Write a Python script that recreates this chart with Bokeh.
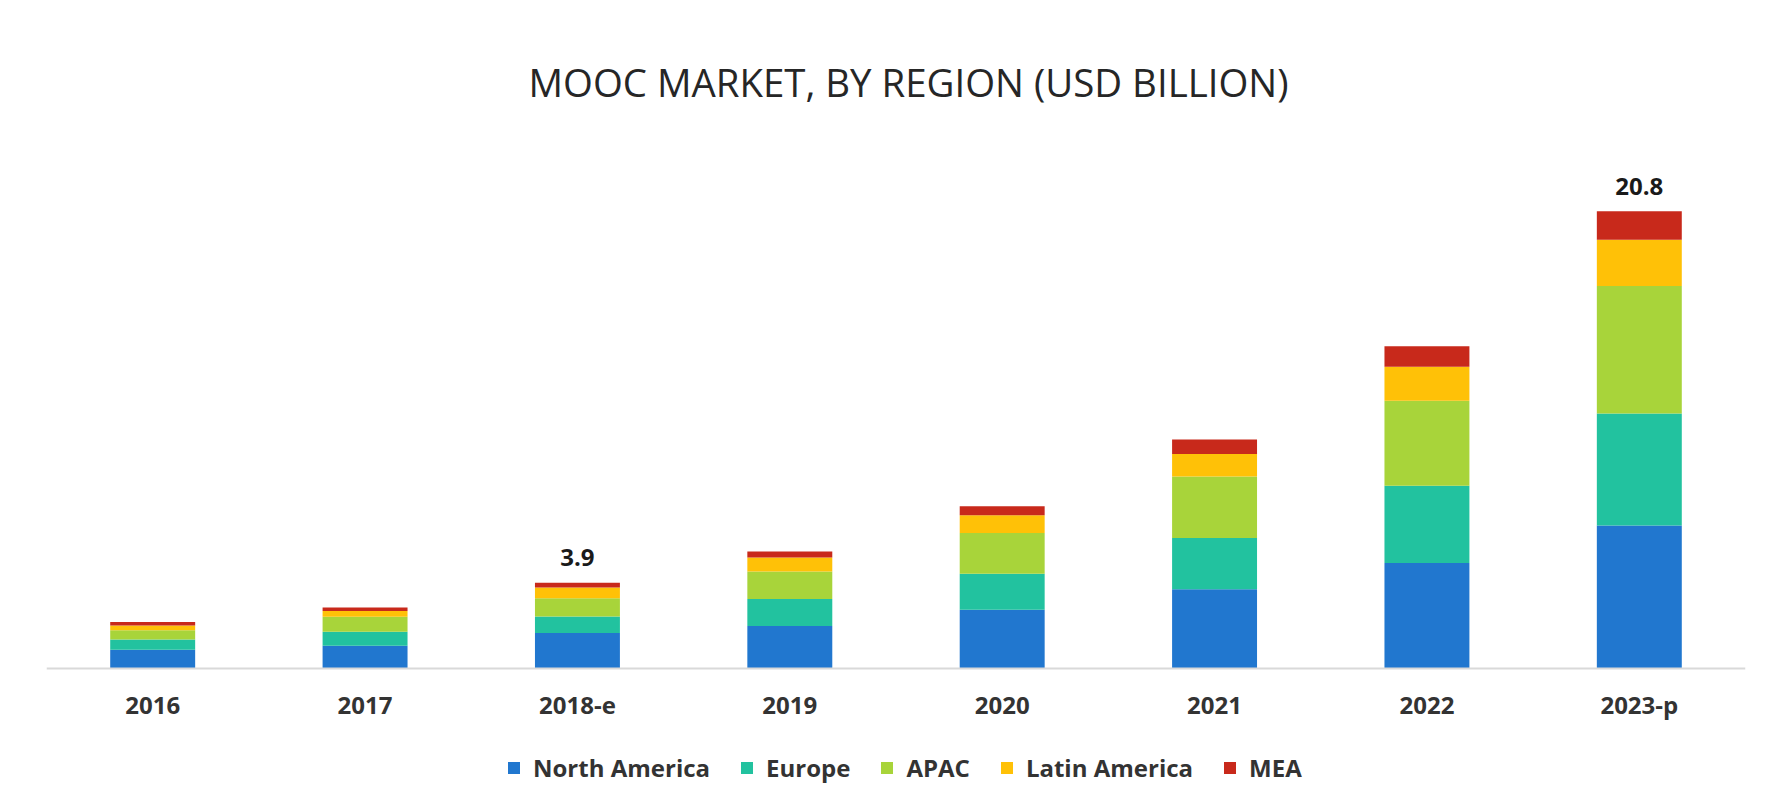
from bokeh.plotting import figure
from bokeh.models import FactorRange, Range1d, Legend, LegendItem, ColumnDataSource
from bokeh.core.properties import value
from bokeh.embed import file_html
from bokeh.resources import INLINE

# ---- data (USD billion) ----
years = ["2016", "2017", "2018-e", "2019", "2020", "2021", "2022", "2023-p"]
north_america = [0.85, 1.03, 1.62, 1.93, 2.67, 3.60, 4.80, 6.50]
europe = [0.47, 0.64, 0.74, 1.23, 1.64, 2.34, 3.51, 5.10]
apac = [0.42, 0.68, 0.83, 1.25, 1.85, 2.80, 3.87, 5.80]
latin_america = [0.22, 0.26, 0.50, 0.64, 0.81, 1.02, 1.55, 2.10]
mea = [0.16, 0.17, 0.21, 0.27, 0.41, 0.66, 0.93, 1.30]

series_names = ["North America", "Europe", "APAC", "Latin America", "MEA"]
series_keys = ["na", "eu", "apac", "la", "mea"]
colors = ["#2177CF", "#22C29F", "#A8D43A", "#FFC107", "#C8291B"]

label_years = ["2018-e", "2023-p"]
label_values = [3.9, 20.8]

title_text = "MOOC MARKET, BY REGION (USD BILLION)"

FONT = "Open Sans"

source = ColumnDataSource(dict(years=years, na=north_america, eu=europe,
                               apac=apac, la=latin_america, mea=mea))

# frame: page y 120 .. 791 ; baseline (y=0) at page y 668
p = figure(width=1756, height=791,
           x_range=FactorRange(factors=years, range_padding=0),
           y_range=Range1d(-5.596, 24.93),
           output_backend="svg", toolbar_location=None,
           y_axis_location=None,
           min_border_left=46, min_border_right=11,
           min_border_top=120, min_border_bottom=0)

p.outline_line_color = None
p.background_fill_color = "white"
p.border_fill_color = "white"
p.xgrid.visible = False
p.ygrid.visible = False

# title
p.title.text = title_text
p.title.align = "left"
p.title.offset = 482
p.title.standoff = 25
p.title.text_font = FONT
p.title.text_font_size = "38.4px"
p.title.text_font_style = "normal"
p.title.text_color = "#262626"

renderers = p.vbar_stack(series_keys, x="years", width=0.4, source=source,
                         color=colors, line_color=None)

# axis styling: axis drawn at the zero baseline
ax = p.xaxis[0]
ax.fixed_location = 0
ax.axis_line_color = "#D9D9D9"
ax.axis_line_width = 2
ax.major_tick_line_color = None
ax.minor_tick_line_color = None
ax.major_label_text_font = FONT
ax.major_label_text_font_size = "24px"
ax.major_label_text_font_style = "bold"
ax.major_label_text_color = "#333333"
ax.major_label_standoff = 14

# value labels
lsrc = ColumnDataSource(dict(x=label_years, y=label_values,
                             t=[f"{v:.1f}" for v in label_values]))
p.text(x="x", y="y", text="t", source=lsrc, text_align="center",
       text_baseline="middle", y_offset=-25, text_font=value(FONT),
       text_font_size="24px", text_font_style="bold", text_color="#1a1a1a")

# legend
items = [LegendItem(label=n, renderers=[r]) for n, r in zip(series_names, renderers)]
legend = Legend(items=items, orientation="horizontal", location=(460, 7),
                glyph_width=15, glyph_height=15, label_standoff=12, spacing=29,
                padding=0, margin=0, border_line_color=None,
                background_fill_alpha=0,
                label_text_font=FONT, label_text_font_size="24px",
                label_text_font_style="bold", label_text_color="#333333")
p.add_layout(legend, "center")

open("out.html", "w").write(file_html(p, INLINE))
